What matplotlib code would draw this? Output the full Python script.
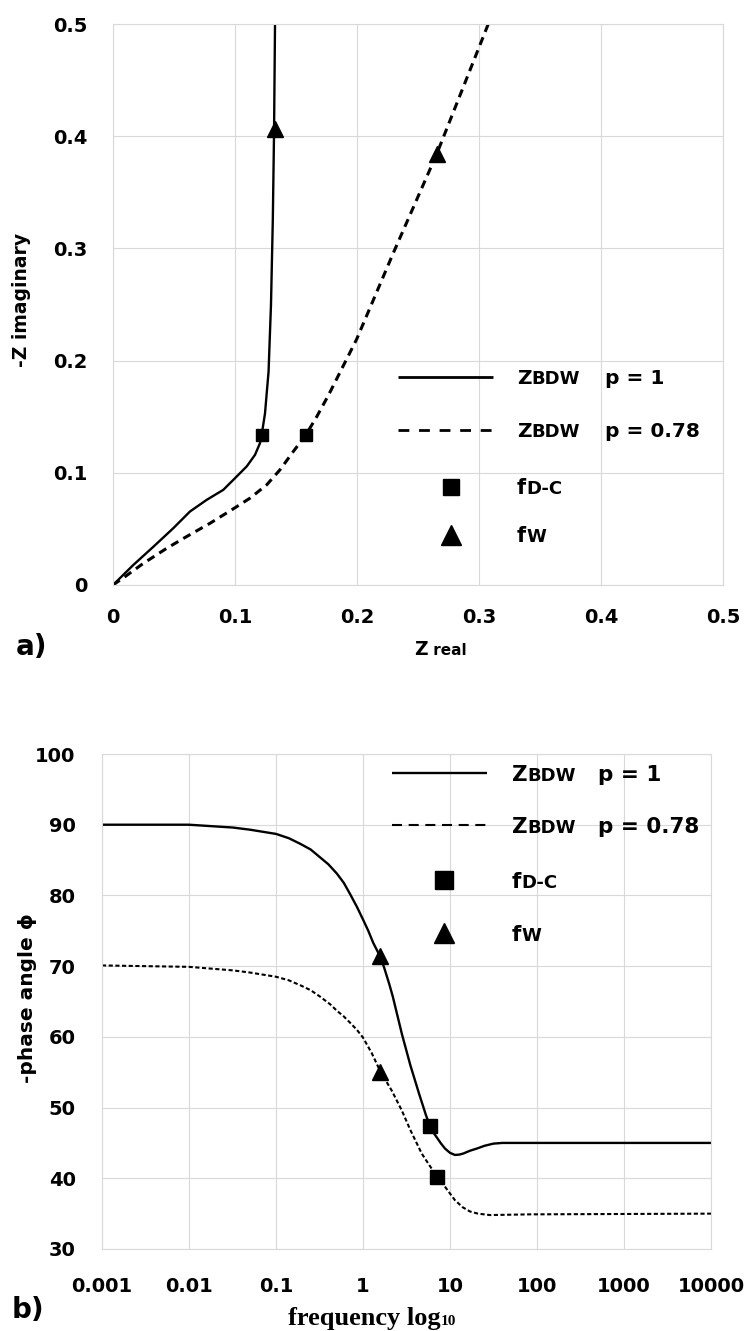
import matplotlib
matplotlib.use("Agg")
import matplotlib.pyplot as plt
from matplotlib.ticker import NullLocator

W, H = 748, 1331

# ---- a) Nyquist plot of the bounded-diffusion Warburg impedance ----
zre_p1 = [0.0, 0.0167, 0.033, 0.0494, 0.0631, 0.0768, 0.0904, 0.100, 0.1096,
          0.1164, 0.1205, 0.1219, 0.1246, 0.126, 0.1275, 0.1285, 0.1295, 0.131,
          0.132, 0.1328]
zim_p1 = [0.0, 0.0179, 0.034, 0.0506, 0.0655, 0.0759, 0.0848, 0.0952, 0.1057,
          0.116, 0.1265, 0.134, 0.153, 0.171, 0.190, 0.220, 0.250, 0.326,
          0.403, 0.5]

zre_p078 = [0.0, 0.0098, 0.0249, 0.044, 0.0604, 0.0795, 0.0973, 0.1123, 0.126,
            0.1369, 0.1478, 0.1582, 0.167, 0.177, 0.1997, 0.2298, 0.2653, 0.3076]
zim_p078 = [0.0, 0.0074, 0.0193, 0.0327, 0.0432, 0.055, 0.067, 0.0774, 0.0893,
            0.1027, 0.119, 0.134, 0.150, 0.170, 0.219, 0.296, 0.384, 0.5]

fdc_re = [0.1219, 0.1582]
fdc_im = [0.134, 0.134]
fw_re = [0.1328, 0.2653]
fw_im = [0.406, 0.384]

re_ticks = [0, 0.1, 0.2, 0.3, 0.4, 0.5]
re_labels = ["0", "0.1", "0.2", "0.3", "0.4", "0.5"]
im_ticks = [0, 0.1, 0.2, 0.3, 0.4, 0.5]
im_labels = ["0", "0.1", "0.2", "0.3", "0.4", "0.5"]

# ---- b) Bode phase plot ----
freq_p1 = [0.001, 0.01, 0.032, 0.05, 0.1, 0.14, 0.19, 0.25, 0.32, 0.4, 0.5, 0.6,
           0.71, 0.85, 1.0, 1.15, 1.31, 1.57, 1.75, 2.0, 2.2, 2.8, 3.5, 4.4, 5.3,
           5.89, 6.5, 7.03, 7.9, 8.77, 10.0, 11.4, 12.8, 14.2, 17.0, 20.3, 25.0,
           31.5, 40.0, 53.5, 10000]
phase_p1 = [90.0, 90.0, 89.6, 89.3, 88.7, 88.1, 87.3, 86.5, 85.4, 84.4, 83.1, 81.8,
            80.2, 78.4, 76.6, 75.0, 73.3, 71.4, 69.8, 67.5, 65.7, 60.4, 56.0, 52.0,
            48.9, 47.4, 46.4, 45.8, 44.9, 44.2, 43.6, 43.3, 43.35, 43.5, 43.9, 44.2,
            44.6, 44.9, 45.0, 45.0, 45.0]

freq_p078 = [0.001, 0.01, 0.032, 0.05, 0.1, 0.14, 0.19, 0.25, 0.32, 0.42, 0.5,
             0.6, 0.71, 0.85, 1.0, 1.26, 1.57, 2.14, 2.79, 3.51, 4.73, 5.9, 7.15,
             8.77, 11.4, 14.0, 17.0, 21.0, 28.8, 83.0, 10000]
phase_p078 = [70.1, 69.9, 69.4, 69.1, 68.5, 68.0, 67.3, 66.6, 65.7, 64.6, 63.7,
              62.9, 62.0, 61.0, 59.9, 57.7, 55.2, 52.4, 49.6, 46.8, 43.5, 41.7, 40.2,
              38.8, 36.9, 35.9, 35.3, 35.0, 34.8, 34.9, 35.0]

fdc_f = [5.89, 7.15]
fdc_phase = [47.4, 40.2]
fw_f = [1.57, 1.57]
fw_phase = [71.4, 55.0]

f_ticks = [0.001, 0.01, 0.1, 1, 10, 100, 1000, 10000]
f_labels = ["0.001", "0.01", "0.1", "1", "10", "100", "1000", "10000"]
ph_ticks = [30, 40, 50, 60, 70, 80, 90, 100]
ph_labels = ["30", "40", "50", "60", "70", "80", "90", "100"]

GRID = "#d9d9d9"
TICK_FONT = "DejaVu Sans"
LEG_FONT = "DejaVu Sans"

fig = plt.figure(figsize=(W / 100, H / 100), dpi=100)
fig.patch.set_facecolor("white")


def fx(x):
    return x / W


def fy(y):
    return 1 - y / H


def style_axes(ax, xpad, ypad):
    for s in ax.spines.values():
        s.set_color(GRID)
        s.set_linewidth(0.8)
    ax.grid(True, color=GRID, linewidth=0.8)
    ax.set_axisbelow(True)
    ax.tick_params(length=0, labelsize=14)
    ax.tick_params(axis="x", pad=xpad)
    ax.tick_params(axis="y", pad=ypad)
    for lab in ax.get_xticklabels() + ax.get_yticklabels():
        lab.set_fontweight("bold")
        lab.set_family(TICK_FONT)


# ---------------- panel a ----------------
ax1 = fig.add_axes([fx(113), fy(585), (723 - 113) / W, (585 - 24) / H])
ax1.set_xlim(0, 0.5)
ax1.set_ylim(0, 0.5)
ax1.set_xticks(re_ticks, re_labels)
ax1.set_yticks(im_ticks, im_labels)
style_axes(ax1, 16.5, 18.5)

ax1.plot(zre_p1, zim_p1, color="black", lw=1.7, solid_joinstyle="round")
ax1.plot(zre_p078, zim_p078, color="black", lw=2.2, linestyle=(0, (2.7, 1.9)))
ax1.plot(fdc_re, fdc_im, ls="none", marker="s", ms=8.5, color="black")
ax1.plot(fw_re, fw_im, ls="none", marker="^", ms=11.5, color="black")

# ---------------- panel b ----------------
ax2 = fig.add_axes([fx(102), fy(1249), (711 - 102) / W, (1249 - 754) / H])
ax2.set_xscale("log")
ax2.set_xlim(0.001, 10000)
ax2.set_ylim(30, 100)
ax2.set_xticks(f_ticks, f_labels)
ax2.xaxis.set_minor_locator(NullLocator())
ax2.set_yticks(ph_ticks, ph_labels)
style_axes(ax2, 20, 19)

ax2.plot(freq_p1, phase_p1, color="black", lw=1.7, solid_joinstyle="round")
ax2.plot(freq_p078, phase_p078, color="black", lw=1.5, linestyle=(0, (2.0, 1.2)))
ax2.plot(fdc_f, fdc_phase, ls="none", marker="s", ms=9.5, color="black")
ax2.plot(fw_f, fw_phase, ls="none", marker="^", ms=11, color="black")

renderer = fig.canvas.get_renderer()


def rich(x, y, parts, family=LEG_FONT):
    """Write text pieces of different sizes on one baseline (pixel coords)."""
    for s, size in parts:
        t = fig.text(fx(x), fy(y), s, fontsize=size, fontweight="bold",
                     family=family, va="baseline", ha="left")
        x += t.get_window_extent(renderer).width


def legend_keys(ax, x0, x1, xm, rows, lw_solid, lw_dash, dash, ms_sq, ms_tri):
    tr = fig.transFigure
    ax.plot([fx(x0), fx(x1)], [fy(rows[0]), fy(rows[0])], color="black",
            lw=lw_solid, transform=tr, clip_on=False, solid_capstyle="butt")
    ax.plot([fx(x0), fx(x1)], [fy(rows[1]), fy(rows[1])], color="black",
            lw=lw_dash, linestyle=(0, dash), transform=tr, clip_on=False,
            dash_capstyle="butt")
    ax.plot([fx(xm)], [fy(rows[2])], marker="s", ms=ms_sq, color="black",
            transform=tr, clip_on=False)
    ax.plot([fx(xm)], [fy(rows[3])], marker="^", ms=ms_tri, color="black",
            transform=tr, clip_on=False)


# legend of panel a
rows_a = [377, 430, 487, 535]
legend_keys(ax1, 398, 493, 451, rows_a, 2.0, 2.0, (3.9, 3.5), 12, 14)
for r, ptxt in zip(rows_a[:2], ["p = 1", "p = 0.78"]):
    rich(517, r + 7.5, [("Z", 14.5), ("BDW", 13)])
    rich(605, r + 7.5, [(ptxt, 14.5)])
rich(517, rows_a[2] + 7.5, [("f", 15), ("D-C", 13)])
rich(517, rows_a[3] + 7.5, [("f", 15), ("W", 13)])

# legend of panel b
rows_b = [773, 825, 880, 933]
legend_keys(ax2, 392, 487, 444, rows_b, 1.7, 1.5, (4.8, 3.2), 13, 15)
for r, ptxt in zip(rows_b[:2], ["p = 1", "p = 0.78"]):
    rich(512, r + 8, [("Z", 15.5), ("BDW", 13)])
    rich(598, r + 8, [(ptxt, 15.5)])
rich(512, rows_b[2] + 8, [("f", 15.5), ("D-C", 13)])
rich(512, rows_b[3] + 8, [("f", 15.5), ("W", 13)])

# axis titles
fig.text(fx(22), fy(300), "-Z imaginary", rotation=90, fontsize=13.5,
         fontweight="bold", family="DejaVu Sans", ha="center", va="center")
rich(414, 655, [("Z", 13.5), (" real", 11)])
fig.text(fx(28), fy(998), "-phase angle \u03d5", rotation=90, fontsize=14.5,
         fontweight="bold", family=["DejaVu Sans"], ha="center", va="center")
rich(288, 1325, [("frequency log", 19), ("10", 11)], family="Liberation Serif")

# panel letters
fig.text(fx(16), fy(655), "a)", fontsize=20, fontweight="bold", family="DejaVu Sans",
         va="baseline", ha="left")
fig.text(fx(12), fy(1318), "b)", fontsize=20, fontweight="bold", family="DejaVu Sans",
         va="baseline", ha="left")

fig.savefig("out.png", dpi=100, facecolor="white")
